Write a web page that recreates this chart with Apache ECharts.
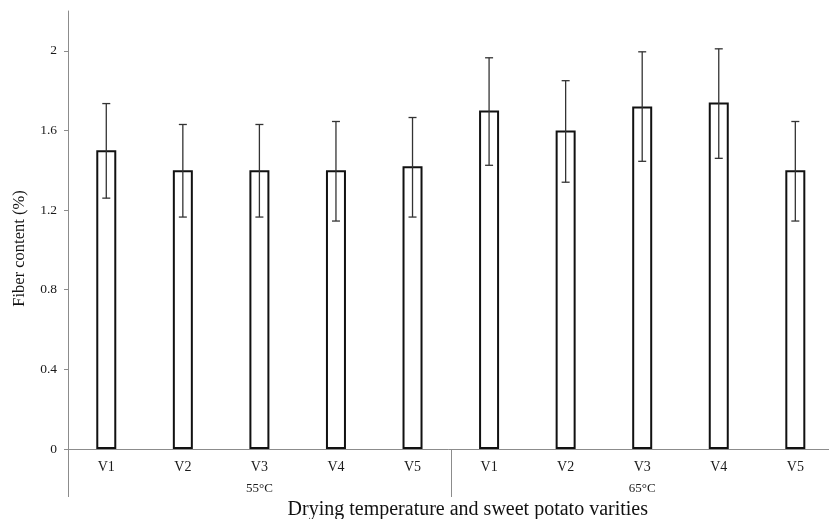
<!DOCTYPE html>
<html>
<head>
<meta charset="utf-8">
<script src="https://cdn.jsdelivr.net/npm/echarts@6/dist/echarts.min.js"></script>
<style>html,body{margin:0;padding:0;background:#fff}#c{width:829px;height:519px}</style>
</head>
<body>
<div id="c"></div>
<script>
const varieties = ['V1','V2','V3','V4','V5','V1','V2','V3','V4','V5'];
const groups = ['55°C','65°C'];
const fiber = [1.50, 1.40, 1.40, 1.40, 1.42, 1.70, 1.60, 1.72, 1.74, 1.40];
const errLow = [1.26, 1.165, 1.165, 1.145, 1.165, 1.425, 1.34, 1.445, 1.46, 1.145];
const errHigh = [1.735, 1.63, 1.63, 1.645, 1.665, 1.965, 1.85, 1.995, 2.01, 1.645];
const yTicks = [0, 0.4, 0.8, 1.2, 1.6, 2];

const font = '"Liberation Serif", "DejaVu Serif", serif';
const axisGray = '#8c8c8c';

const chart = echarts.init(document.getElementById('c'));
chart.setOption({
  animation: false,
  backgroundColor: '#fff',
  grid: { left: 68, top: 11, width: 765.6, bottom: 70, containLabel: false, outerBoundsMode: 'none' },
  xAxis: [
    {
      type: 'category', data: varieties, position: 'bottom',
      axisLine: { show: true, lineStyle: { color: axisGray, width: 1 } },
      axisTick: { show: false },
      axisLabel: { color: '#1a1a1a', fontFamily: font, fontSize: 14, margin: 11 }
    },
    {
      type: 'category', data: groups, position: 'bottom',
      axisLine: { show: false },
      axisTick: { show: true, length: 48, interval: 0, lineStyle: { color: axisGray, width: 1 } },
      axisLabel: { color: '#1a1a1a', fontFamily: font, fontSize: 13, margin: 33 },
      name: 'Drying temperature and sweet potato varities',
      nameLocation: 'middle', nameGap: 47,
      nameTextStyle: { color: '#111', fontFamily: font, fontSize: 20, padding: [0, 0, 0, 34] }
    }
  ],
  yAxis: {
    type: 'value', min: 0, max: 2.2, interval: 0.4,
    axisLine: { show: true, lineStyle: { color: axisGray, width: 1 } },
    axisTick: { show: true, length: 4, customValues: yTicks, lineStyle: { color: axisGray } },
    axisLabel: { customValues: yTicks, color: '#1a1a1a', fontFamily: font, fontSize: 13.5, margin: 11 },
    splitLine: { show: false },
    name: 'Fiber content (%)', nameLocation: 'middle', nameGap: 40,
    nameTextStyle: { color: '#111', fontFamily: font, fontSize: 16.5, padding: [0, 37, 0, 0] }
  },
  series: [
    {
      type: 'bar', data: fiber, barWidth: 20, xAxisIndex: 0,
      itemStyle: { color: '#fff', borderColor: '#111', borderWidth: 2 }
    },
    {
      type: 'custom', xAxisIndex: 0, z: 5,
      data: varieties.map((v, i) => [i, errLow[i], errHigh[i]]),
      renderItem: function (params, api) {
        const x = api.value(0);
        const lo = api.coord([x, api.value(1)]);
        const hi = api.coord([x, api.value(2)]);
        const cap = 4;
        const style = { stroke: '#333', lineWidth: 1.3 };
        return {
          type: 'group',
          children: [
            { type: 'line', shape: { x1: lo[0], y1: lo[1], x2: hi[0], y2: hi[1] }, style: style },
            { type: 'line', shape: { x1: hi[0] - cap, y1: hi[1], x2: hi[0] + cap, y2: hi[1] }, style: style },
            { type: 'line', shape: { x1: lo[0] - cap, y1: lo[1], x2: lo[0] + cap, y2: lo[1] }, style: style }
          ]
        };
      }
    }
  ]
});
</script>
</body>
</html>
